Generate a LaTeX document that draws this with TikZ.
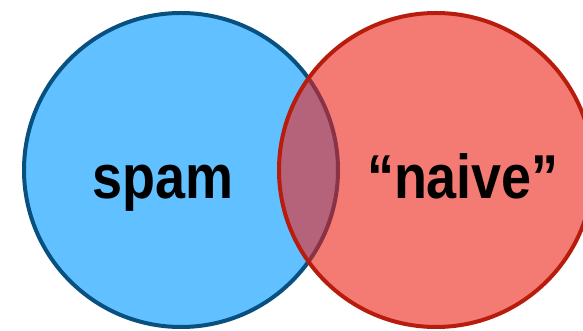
\documentclass[tikz,border=0pt]{standalone}
\usepackage{fontspec}
\setmainfont{Liberation Sans}
\definecolor{bluefill}{RGB}{97,192,255}
\definecolor{blueedge}{RGB}{8,80,128}
\definecolor{redfill}{RGB}{244,123,116}
\definecolor{rededge}{RGB}{184,28,12}
\definecolor{mixfill}{RGB}{181,99,122}
\definecolor{mixedge}{RGB}{138,50,70}
\tikzset{
  lbl/.style={anchor=base, inner sep=0pt, font=\fontsize{62}{62}\selectfont\bfseries},
  ring/.style={line width=4pt}
}
\begin{document}
\begin{tikzpicture}[x=1pt,y=1pt]
\useasboundingbox (0,0) rectangle (583,331);
\clip (0,0) rectangle (583,331);
\coordinate (cl) at (181,161);
\coordinate (cr) at (436,161);
\fill[bluefill] (cl) circle (157);
\draw[ring, blueedge] (cl) circle (157);
\fill[redfill] (cr) circle (157);
\begin{scope}
  \clip (cr) circle (157);
  \fill[mixfill] (cl) circle (157);
  \draw[ring, mixedge] (cl) circle (157);
\end{scope}
\draw[ring, rededge] (cr) circle (157);
\node[lbl] (spam) at (163,132) {\scalebox{0.87}[1]{spam}};
\node[lbl] (naive) at (463,132) {\scalebox{0.87}[1]{“naive”}};
\end{tikzpicture}
\end{document}
